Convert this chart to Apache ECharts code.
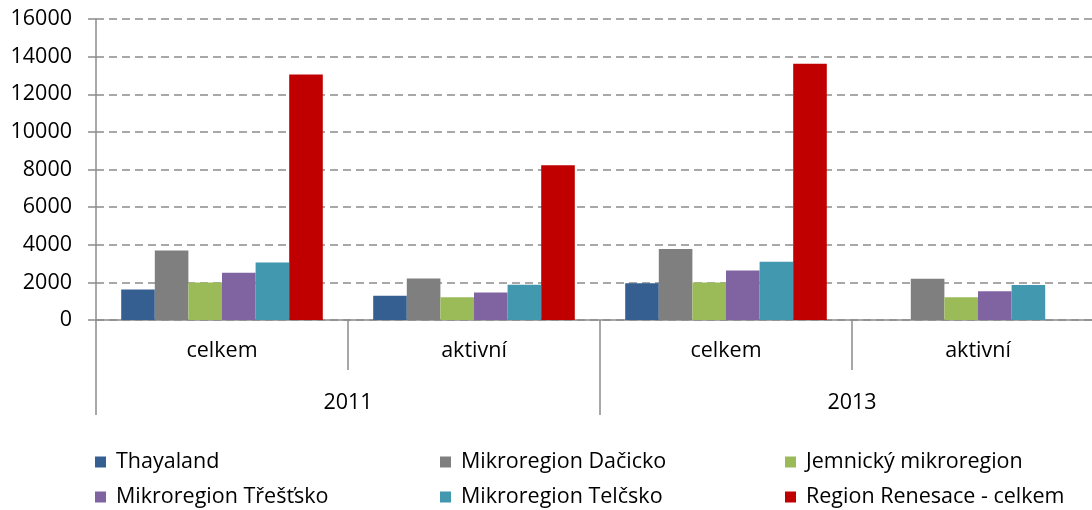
<!DOCTYPE html>
<html>
<head>
<meta charset="utf-8">
<script src="https://cdn.jsdelivr.net/npm/echarts@6/dist/echarts.min.js"></script>
<style>
  html, body { margin: 0; padding: 0; background: #fff; overflow: hidden; }
  /* the plot area runs a little past the right edge of the picture */
  #chart { width: 1104px; height: 510px; }
</style>
</head>
<body>
<div id="chart"></div>
<script>
// categories (two-level axis)
const subCategories = ['celkem', 'aktivní', 'celkem', 'aktivní'];
const years = ['2011', '2013'];
const yTicks = [0, 2000, 4000, 6000, 8000, 10000, 12000, 14000, 16000];

// series values, one per region
const seriesNames = [
  'Thayaland',
  'Mikroregion Dačicko',
  'Jemnický mikroregion',
  'Mikroregion Třešťsko',
  'Mikroregion Telčsko',
  'Region Renesace - celkem'
];
const thayaland = [1620, 1290, 1960, null];
const dacicko = [3700, 2210, 3770, 2190];
const jemnicky = [2000, 1210, 1990, 1210];
const trestsko = [2510, 1460, 2630, 1530];
const telcsko = [3060, 1870, 3090, 1860];
const renesace = [13050, 8230, 13620, null];

const values = [thayaland, dacicko, jemnicky, trestsko, telcsko, renesace];
const colors = ['#365F91', '#7F7F7F', '#9BBB59', '#8064A2', '#4198AF', '#C00000'];

const FONT = '"Open Sans", "Noto Sans", sans-serif';
const FS = 21.5;
const axisGray = '#8C8C8C';

const chart = echarts.init(document.getElementById('chart'));

// legend slots: 3 columns x 2 rows
const legendPos = [
  [95, 451], [440, 451], [785, 451],
  [95, 486], [440, 486], [785, 486]
];

const option = {
  animation: false,
  backgroundColor: '#fff',
  grid: { left: 96, right: 0, top: 19, bottom: 190 },
  legend: seriesNames.map((name, i) => ({
    data: [name],
    left: legendPos[i][0],
    top: legendPos[i][1],
    icon: 'rect',
    itemWidth: 11,
    itemHeight: 11,
    padding: 0,
    textStyle: { fontFamily: FONT, fontSize: FS, color: '#000', padding: [0, 0, 0, 5] }
  })),
  xAxis: [
    {
      type: 'category',
      data: subCategories,
      axisLine: { lineStyle: { color: axisGray, width: 1.5 } },
      axisTick: { show: true, interval: 0, length: 50, lineStyle: { color: axisGray, width: 1.5 } },
      axisLabel: { fontFamily: FONT, fontSize: FS, color: '#000', margin: 20 }
    },
    {
      type: 'category',
      data: years,
      position: 'bottom',
      offset: 50,
      axisLine: { show: false },
      axisTick: { show: true, interval: 0, length: 45, lineStyle: { color: axisGray, width: 1.5 } },
      axisLabel: { fontFamily: FONT, fontSize: FS, color: '#000', margin: 22 }
    }
  ],
  yAxis: {
    type: 'value',
    min: yTicks[0],
    max: yTicks[yTicks.length - 1],
    interval: 2000,
    axisLine: { show: true, lineStyle: { color: axisGray, width: 1.5 } },
    axisTick: { show: true, length: 8, lineStyle: { color: axisGray, width: 1.5 } },
    axisLabel: { fontFamily: FONT, fontSize: FS, color: '#000', margin: 24, formatter: v => String(v) },
    splitLine: { lineStyle: { color: axisGray, width: 1.5, type: [8, 5] } }
  },
  series: seriesNames.map((name, i) => ({
    name: name,
    type: 'bar',
    xAxisIndex: 0,
    data: values[i],
    barGap: 0,
    barCategoryGap: '20%',
    itemStyle: { color: colors[i] }
  }))
};

chart.setOption(option);
</script>
</body>
</html>
